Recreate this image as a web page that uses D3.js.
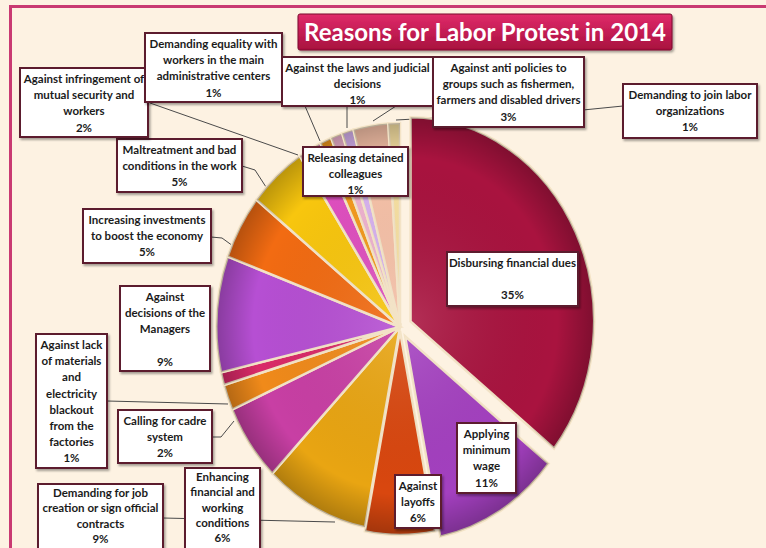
<!DOCTYPE html>
<html>
<meta charset="utf-8">
<head>
<title>Reasons for Labor Protest in 2014</title>
<style>
body { margin: 0; background: #fdf2e2; }
svg { display: block; }
.box { fill: #fff; stroke: #5c1a2e; stroke-width: 2px; }
.lbl { font-family: Lato, "Open Sans", sans-serif; font-weight: bold; font-size: 11.5px; fill: #1b1b1b; text-anchor: middle; }
.leader { fill: none; stroke: #4a4a4a; stroke-width: 1px; }
</style>
</head>
<body>
<script src="https://d3js.org/d3.v7.min.js"></script>
<script>

// data, clockwise from twelve o'clock
var categories = [
  "Disbursing financial dues",
  "Applying minimum wage",
  "Against layoffs",
  "Demanding for job creation or sign official contracts",
  "Enhancing financial and working conditions",
  "Calling for cadre system",
  "Against lack of materials and electricity blackout from the factories",
  "Against decisions of the Managers",
  "Increasing investments to boost the economy",
  "Maltreatment and bad conditions in the work",
  "Against infringement of mutual security and workers",
  "Demanding equality with workers in the main administrative centers",
  "Against the laws and judicial decisions",
  "Releasing detained colleagues",
  "Against anti policies to groups such as fishermen, farmers and disabled drivers",
  "Demanding to join labor organizations"
];
var values = [35, 11, 6, 9, 6, 2, 1, 9, 5, 5, 2, 1, 1, 1, 3, 1];
var colors = ["#a9133f", "#a440c0", "#d9470f", "#e9a512", "#c83fa4", "#f08a1a",
              "#d92a68", "#b64fd3", "#f26b12", "#f8c60e", "#df4fbf", "#f39a1e",
              "#efb3cf", "#d7b2ef", "#f6c1a8", "#f7e0a2"];
// how each label is broken over lines inside its box
var labelLines = [
  ["Disbursing financial dues", ""],
  ["Applying", "minimum", "wage"],
  ["Against", "layoffs"],
  ["Demanding for job", "creation or sign official", "contracts"],
  ["Enhancing", "financial and", "working", "conditions"],
  ["Calling for cadre", "system"],
  ["Against lack", "of materials", "and", "electricity", "blackout", "from the", "factories"],
  ["Against", "decisions of the", "Managers", ""],
  ["Increasing investments", "to boost the economy"],
  ["Maltreatment and bad", "conditions in the work"],
  ["Against infringement of", "mutual security and", "workers"],
  ["Demanding equality with", "workers in the main", "administrative centers"],
  ["Against the laws and judicial", "decisions"],
  ["Releasing detained", "colleagues"],
  ["Against anti policies to", "groups such as fishermen,", "farmers and disabled drivers"],
  ["Demanding to join labor", "organizations"]
];

// label boxes and leader lines (layout only)
var boxes = [
  {x: 447, y: 252, w: 131, h: 54},
  {x: 457, y: 423, w: 59, h: 70},
  {x: 395, y: 475, w: 46, h: 53},
  {x: 38, y: 484, w: 125, h: 70, gap: 15.3, top: 13},
  {x: 185, y: 468, w: 75, h: 86, gap: 15.3, top: 13},
  {x: 118, y: 410, w: 94, h: 53},
  {x: 36, y: 334, w: 71, h: 134},
  {x: 120, y: 286, w: 90, h: 85},
  {x: 83, y: 209, w: 128, h: 54},
  {x: 117, y: 139, w: 125, h: 53},
  {x: 20, y: 68, w: 128, h: 69},
  {x: 145, y: 33, w: 137, h: 69},
  {x: 282, y: 57, w: 151, h: 49},
  {x: 303, y: 147, w: 105, h: 49},
  {x: 433, y: 57, w: 151, h: 70},
  {x: 623, y: 84, w: 134, h: 54}
];
var leaders = [
  [[163, 518], [335, 522]],
  [[212, 437], [221, 437], [234, 421]],
  [[107, 401], [228, 404]],
  [[211, 237], [222, 238], [233, 246]],
  [[242, 166], [255, 170], [266, 187]],
  [[150, 103], [298, 155]],
  [[305, 106], [320, 141]],
  [[347, 106], [347, 128]],
  [[396, 106], [373, 121]],
  [[623, 106], [583, 110], [396, 120]]
];

var W = 766, H = 548;
var cx = 400, cy = 327, R = 204, squash = 0.9;
// slices pulled out of the pie
var explode = {0: 13, 1: 11, 2: 4};

var svg = d3.select("body").append("svg")
    .attr("width", W)
    .attr("height", H);

var defs = svg.append("defs");
var shade = defs.append("radialGradient")
    .attr("id", "shade")
    .attr("gradientUnits", "userSpaceOnUse")
    .attr("cx", 0).attr("cy", 0).attr("r", R);
shade.append("stop").attr("offset", "0").attr("stop-color", "#fff").attr("stop-opacity", 0.12);
shade.append("stop").attr("offset", "0.8").attr("stop-color", "#000").attr("stop-opacity", 0);
shade.append("stop").attr("offset", "1").attr("stop-color", "#000").attr("stop-opacity", 0.25);

var titleGrad = defs.append("linearGradient")
    .attr("id", "titleGrad")
    .attr("x1", 0).attr("y1", 0).attr("x2", 0).attr("y2", 1);
titleGrad.append("stop").attr("offset", "0").attr("stop-color", "#e02a6a");
titleGrad.append("stop").attr("offset", "1").attr("stop-color", "#a8103e");

var shadow = defs.append("filter").attr("id", "shadow")
    .attr("x", "-10%").attr("y", "-10%").attr("width", "130%").attr("height", "140%");
shadow.append("feDropShadow")
    .attr("dx", 1.5).attr("dy", 2).attr("stdDeviation", 1.2)
    .attr("flood-color", "#000").attr("flood-opacity", 0.35);

// frame
svg.append("rect").attr("x", 9).attr("y", 5).attr("width", W - 9).attr("height", 3).attr("fill", "#c93a72");
svg.append("rect").attr("x", 9).attr("y", 5).attr("width", 3).attr("height", H - 5).attr("fill", "#c93a72");

// leader lines go under the pie and boxes
var line = d3.line();
svg.append("g").selectAll("path")
    .data(leaders).enter()
    .append("path")
    .attr("class", "leader")
    .attr("d", line);

// pie
var pie = d3.pie().sort(null).value(function(d) { return d; });
var arcs = pie(values);
var arc = d3.arc().innerRadius(0).outerRadius(R);

var pieG = svg.append("g")
    .attr("transform", "translate(" + cx + "," + cy + ") scale(" + squash + ",1)");

var slice = pieG.selectAll(".slice")
    .data(arcs).enter()
    .append("g")
    .attr("class", "slice")
    .attr("transform", function(d, i) {
      var off = explode[i] || 0;
      var a = (d.startAngle + d.endAngle) / 2;
      return "translate(" + (Math.sin(a) * off) + "," + (-Math.cos(a) * off) + ")";
    });

slice.append("path")
    .attr("d", arc)
    .attr("fill", function(d, i) { return colors[i]; })
    .attr("stroke", "#f3e3c6")
    .attr("stroke-width", 2.5)
    .attr("vector-effect", "non-scaling-stroke");

slice.append("path")
    .attr("d", arc)
    .attr("fill", "url(#shade)")
    .attr("stroke", "none");

// title
svg.append("rect")
    .attr("x", 298).attr("y", 14)
    .attr("width", 374).attr("height", 36)
    .attr("rx", 2)
    .attr("fill", "url(#titleGrad)")
    .attr("stroke", "#7a0d2e")
    .attr("filter", "url(#shadow)");
svg.append("text")
    .attr("x", 485).attr("y", 41)
    .attr("text-anchor", "middle")
    .attr("font-family", "Lato, sans-serif")
    .attr("font-weight", "bold")
    .attr("font-size", 25)
    .attr("fill", "#fff")
    .attr("textLength", 362)
    .attr("lengthAdjust", "spacingAndGlyphs")
    .text("Reasons for Labor Protest in 2014");

// label boxes
var lab = svg.append("g").selectAll("g")
    .data(categories).enter()
    .append("g");

lab.append("rect")
    .attr("class", "box")
    .attr("filter", "url(#shadow)")
    .attr("x", function(d, i) { return boxes[i].x; })
    .attr("y", function(d, i) { return boxes[i].y; })
    .attr("width", function(d, i) { return boxes[i].w; })
    .attr("height", function(d, i) { return boxes[i].h; });

lab.each(function(d, i) {
  var b = boxes[i];
  var gap = b.gap || 16.2, top = b.top || 15;
  var lines = labelLines[i].concat([values[i] + "%"]);
  var t = d3.select(this).append("text")
      .attr("class", "lbl")
      .attr("x", b.x + b.w / 2);
  lines.forEach(function(s, k) {
    t.append("tspan")
      .attr("x", b.x + b.w / 2)
      .attr("y", b.y + top + k * gap)
      .text(s);
  });
});

</script>
</body>
</html>
